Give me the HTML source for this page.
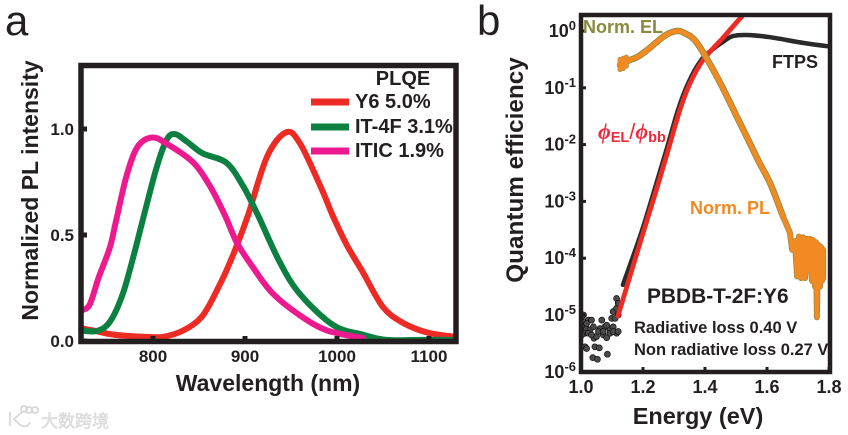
<!DOCTYPE html>
<html lang="en">
<head>
<meta charset="utf-8">
<title>PL and quantum efficiency chart</title>
<style>
html,body{margin:0;padding:0;background:#fff;width:848px;height:435px;overflow:hidden}
svg{display:block}
text{font-family:"Liberation Sans","Noto Sans CJK SC",sans-serif;font-weight:700;fill:#231f20}
.t17{font-size:17px}.t18{font-size:18px}.t20{font-size:20px}.t23{font-size:23px}
</style>
</head>
<body>
<svg id="fig" xmlns="http://www.w3.org/2000/svg" width="848" height="435" viewBox="0 0 848 435">
  <defs>
    <clipPath id="clipB"><rect x="581" y="15" width="249" height="357"/></clipPath>
  </defs>
  <text x="5" y="35" style="font-size:42px;font-weight:400">a</text>
  <text x="477" y="35" style="font-size:42px;font-weight:400">b</text>

  <g id="plotA"></g>
  <rect x="81" y="65.5" width="375" height="276" fill="none" stroke="#231f20" stroke-width="5.5"/>
  <g id="ticksA"></g>
  <text class="t23" x="268" y="391" text-anchor="middle">Wavelength (nm)</text>
  <text class="t23" transform="translate(38,190.5) rotate(-90)" text-anchor="middle">Normalized PL intensity</text>
  <text class="t20" x="403" y="85" text-anchor="middle">PLQE</text>
  <g>
    <line x1="311" x2="349" y1="102" y2="102" stroke="#ee2a24" stroke-width="7"/>
    <text class="t20" x="355" y="108">Y6 5.0%</text>
  </g>
  <g>
    <line x1="311" x2="349" y1="127" y2="127" stroke="#0b8040" stroke-width="7"/>
    <text class="t20" x="355" y="133">IT-4F 3.1%</text>
  </g>
  <g>
    <line x1="311" x2="349" y1="151" y2="151" stroke="#ec1a8e" stroke-width="7"/>
    <text class="t20" x="355" y="157">ITIC 1.9%</text>
  </g>

  <g id="plotB" clip-path="url(#clipB)"></g>
  <rect x="581" y="15" width="249" height="357" fill="none" stroke="#231f20" stroke-width="4.5"/>
  <g id="ticksB"></g>
  <text style="font-size:23.5px" x="698" y="424" text-anchor="middle">Energy (eV)</text>
  <text style="font-size:24.3px" transform="translate(523,170) rotate(-90)" text-anchor="middle">Quantum efficiency</text>
  <text class="t18" x="583" y="33" style="fill:#8a8a3c">Norm. EL</text>
  <text class="t18" x="772" y="68">FTPS</text>
  <text class="t18" x="690" y="214" style="fill:#f28a24">Norm. PL</text>
  <text x="598" y="139" style="font-size:22px;fill:#ee2a3c"><tspan style="font-family:'Liberation Serif',serif;font-style:italic">ϕ</tspan><tspan dy="3" style="font-size:14.5px">EL</tspan><tspan dy="-3" style="font-weight:400">/</tspan><tspan style="font-family:'Liberation Serif',serif;font-style:italic">ϕ</tspan><tspan dy="3" style="font-size:14.5px">bb</tspan></text>
  <text x="647" y="303" style="font-size:20.9px">PBDB-T-2F:Y6</text>
  <text x="634" y="333" style="font-size:16.5px">Radiative loss 0.40 V</text>
  <text x="634" y="355" style="font-size:16.5px">Non radiative loss 0.27 V</text>

  <g>
    <path d="M10 412 v14 M22 412 l-8 7 l6 6 q7 4 10 -3 M24 406 a3 3 0 1 0 .1 0 M29 407 a3 3 0 1 0 .1 0 M35 407 a3 3 0 1 0 .1 0" fill="none" stroke="#d6d6d6" stroke-width="1.7"/>
    <text x="41" y="427" style="font-size:17px;font-weight:400;fill:#e6e6e6;stroke:#d2d2d2;stroke-width:.5">大数跨境</text>
  </g>
</svg>
<script>
/* ---- Panel a data ---- */
var y6Wavelength = [722,740,757,789,811,833,854,873,887,903,924,945,960,982,996,1011,1028,1050,1072,1098,1128];
var y6Intensity = [0.06,0.045,0.03,0.02,0.02,0.05,0.12,0.27,0.405,0.59,0.87,0.985,0.93,0.73,0.585,0.45,0.325,0.16,0.085,0.04,0.02];
var it4fWavelength = [722,739,753,767,780,790,804,815,824,837,854,880,898,914,938,960,996,1028,1054,1090,1128];
var it4fIntensity = [0.05,0.047,0.09,0.22,0.42,0.59,0.82,0.95,0.976,0.94,0.885,0.84,0.73,0.594,0.37,0.22,0.075,0.03,0.005,0.005,0.005];
var iticWavelength = [722,731,741,753,760,771,783,799,815,843,862,878,891,909,930,960,989,1028];
var iticIntensity = [0.145,0.17,0.30,0.44,0.57,0.775,0.915,0.96,0.93,0.845,0.73,0.594,0.465,0.345,0.225,0.12,0.05,0.014];
var aXTicks = [800,900,1000,1100];
var aYTicks = [0,0.5,1];
var aYLabels = ["0.0","0.5","1.0"];

/* ---- Panel b data (log10 of quantum efficiency) ---- */
var ftpsEnergy = [1.135,1.194,1.233,1.275,1.313,1.346,1.388,1.43,1.458,1.49,1.535,1.61,1.716,1.797];
var ftpsLog = [-4.47,-3.56,-2.87,-2.1,-1.39,-0.915,-0.51,-0.3,-0.19,-0.09,-0.07,-0.11,-0.21,-0.27];
var ratioEnergy = [1.119,1.2,1.239,1.281,1.319,1.352,1.394,1.458,1.529,1.56];
var ratioLog = [-5.02,-3.56,-2.87,-2.1,-1.39,-0.915,-0.51,-0.12,0.32,0.5];
var noiseEnergy = [1.008,1.008,1.003,1.003,1.013,1.018,1.013,1.024,1.034,1.018,1.029,1.04,1.013,1.024,1.042,1.05,1.067,1.061,1.077,1.083,1.094,1.104,1.115,1.099,1.104,1.115,1.115,1.12,1.045,1.059,1.085,1.038,1.053,1.072,1.083,1.056,1.034,1.094,1.003,1.104,1.12,1.018,1.072,1.11,1.12];
var noiseLog = [-5,-5.12,-5.21,-5.29,-5.56,-5.59,-5.12,-5.09,-5.09,-5.24,-5.26,-5.21,-5.32,-5.32,-5.41,-5.38,-5.09,-5.24,-5.21,-5.18,-5.26,-5.21,-5.32,-5.06,-4.94,-4.88,-4.71,-4.79,-5.56,-5.58,-5.69,-5.75,-5.78,-5.35,-5.4,-5.29,-5.35,-5.32,-5.35,-5.29,-5,-5.15,-5.29,-5.06,-5.29];
var elEnergy = [1.126,1.14,1.158,1.181,1.215,1.245,1.277,1.31,1.335,1.374,1.439,1.503,1.571,1.61,1.652];
var elLog = [-0.6,-0.55,-0.51,-0.46,-0.33,-0.19,-0.06,0,-0.04,-0.21,-0.81,-1.51,-2.27,-2.68,-3.27];
var elStartEnergy = [1.126,1.126,1.136,1.136,1.146,1.146];
var elStartLog = [-0.68,-0.5,-0.66,-0.48,-0.62,-0.46];
var plEnergy = [1.652,1.674,1.681,1.69,1.697,1.703,1.71,1.716,1.723,1.729,1.732,1.739,1.745,1.748,1.755,1.758,1.761,1.765,1.771,1.774,1.777,1.781,1.781];
var plLog = [-3.27,-3.55,-3.85,-3.7,-4.32,-3.62,-4.35,-3.63,-4.35,-3.66,-4.22,-3.66,-4.4,-3.68,-4.5,-3.72,-5.04,-3.76,-4.5,-3.8,-4.4,-3.85,-4.36];
var bXTicks = [1.0,1.2,1.4,1.6,1.8];
var bYExponents = [0,-1,-2,-3,-4,-5,-6];

var NS = "http://www.w3.org/2000/svg";
function mk(tag, parent) { var e = document.createElementNS(NS, tag); parent.appendChild(e); return e; }

/* axis functions */
function xA(w) { return 245 + (w - 900) * 0.92; }
function yA(v) { return 341 - v * 212; }
function xB(e) { return 581 + (e - 1) * 310; }
function yB(l) { return 31 - l * 56.8; }

function smoothPath(xs, ys, fx, fy) {
  var p = xs.map(function (x, i) { return [fx(x), fy(ys[i])]; });
  var d = "M" + p[0][0].toFixed(1) + " " + p[0][1].toFixed(1);
  for (var i = 0; i < p.length - 1; i++) {
    var a = p[Math.max(0, i - 1)], b = p[i], c = p[i + 1], e = p[Math.min(p.length - 1, i + 2)];
    d += "C" + (b[0] + (c[0] - a[0]) / 6).toFixed(1) + " " + (b[1] + (c[1] - a[1]) / 6).toFixed(1) + " " +
         (c[0] - (e[0] - b[0]) / 6).toFixed(1) + " " + (c[1] - (e[1] - b[1]) / 6).toFixed(1) + " " +
         c[0].toFixed(1) + " " + c[1].toFixed(1);
  }
  return d;
}
function straightPath(xs, ys, fx, fy) {
  return xs.map(function (x, i) { return (i ? "L" : "M") + fx(x).toFixed(1) + " " + fy(ys[i]).toFixed(1); }).join("");
}
function styleLine(el, d, color, width) {
  el.setAttribute("d", d);
  el.setAttribute("fill", "none");
  el.setAttribute("stroke", color);
  el.setAttribute("stroke-width", width);
  el.setAttribute("stroke-linejoin", "round");
  el.setAttribute("stroke-linecap", "round");
}

/* Panel a series */
var plotA = document.getElementById("plotA");
var lineY6 = mk("path", plotA);


styleLine(lineY6, smoothPath(y6Wavelength, y6Intensity, xA, yA), "#ee2a24", 6);
var lineIT = mk("path", plotA);


styleLine(lineIT, smoothPath(it4fWavelength, it4fIntensity, xA, yA), "#0b8040", 6);
var lineITIC = mk("path", plotA);


styleLine(lineITIC, smoothPath(iticWavelength, iticIntensity, xA, yA), "#ec1a8e", 6);

/* Panel a ticks */
var ticksA = document.getElementById("ticksA");
aXTicks.forEach(function (w) {
  var t = mk("line", ticksA);
  
  
  t.setAttribute("x1", xA(w)); t.setAttribute("x2", xA(w));
  t.setAttribute("y1", 340); t.setAttribute("y2", 336);
  t.setAttribute("stroke", "#231f20"); t.setAttribute("stroke-width", 5);
  var l = mk("text", ticksA);
  
  
  l.setAttribute("class", "t17");
  l.setAttribute("x", xA(w)); l.setAttribute("y", 362);
  l.setAttribute("text-anchor", "middle");
  l.textContent = w;
});
aYTicks.forEach(function (v, i) {
  var t = mk("line", ticksA);
  
  
  t.setAttribute("x1", 83); t.setAttribute("x2", 87);
  t.setAttribute("y1", yA(v)); t.setAttribute("y2", yA(v));
  t.setAttribute("stroke", "#231f20"); t.setAttribute("stroke-width", 5);
  var l = mk("text", ticksA);
  
  
  l.setAttribute("class", "t17");
  l.setAttribute("x", 74); l.setAttribute("y", yA(v) + 6);
  l.setAttribute("text-anchor", "end");
  l.textContent = aYLabels[i];
});

/* Panel b series */
var plotB = document.getElementById("plotB");
noiseEnergy.forEach(function (e, i) {
  var c = mk("circle", plotB);
  
  
  c.setAttribute("cx", xB(e).toFixed(1));
  c.setAttribute("cy", yB(noiseLog[i]).toFixed(1));
  c.setAttribute("r", 3);
  c.setAttribute("fill", "#4a4a4a");
  c.setAttribute("stroke", "#111");
  c.setAttribute("stroke-width", 0.7);
});
var lineFtps = mk("path", plotB);


styleLine(lineFtps, smoothPath(ftpsEnergy, ftpsLog, xB, yB), "#2a2a2a", 4.5);
var lineRatio = mk("path", plotB);


styleLine(lineRatio, smoothPath(ratioEnergy, ratioLog, xB, yB), "#ee2a24", 4.8);
var elEdge = mk("path", plotB);


styleLine(elEdge, smoothPath(elEnergy, elLog, xB, yB), "#8f8b3e", 6.5);
var elStartEdge = mk("path", plotB);


styleLine(elStartEdge, straightPath(elStartEnergy, elStartLog, xB, yB), "#8f8b3e", 5);
var plEdge = mk("path", plotB);


styleLine(plEdge, straightPath(plEnergy, plLog, xB, yB), "#a08a3c", 6);
var elCore = mk("path", plotB);


styleLine(elCore, smoothPath(elEnergy, elLog, xB, yB), "#f28a24", 4.8);
var elStartCore = mk("path", plotB);


styleLine(elStartCore, straightPath(elStartEnergy, elStartLog, xB, yB), "#f28a24", 4);
var plCore = mk("path", plotB);


styleLine(plCore, straightPath(plEnergy, plLog, xB, yB), "#f28a24", 4.5);

/* Panel b ticks */
var ticksB = document.getElementById("ticksB");
bXTicks.forEach(function (e) {
  var t = mk("line", ticksB);
  
  
  t.setAttribute("x1", xB(e)); t.setAttribute("x2", xB(e));
  t.setAttribute("y1", 371); t.setAttribute("y2", 367);
  t.setAttribute("stroke", "#231f20"); t.setAttribute("stroke-width", 3);
  var l = mk("text", ticksB);
  
  
  l.setAttribute("class", "t18");
  l.setAttribute("x", xB(e)); l.setAttribute("y", 393);
  l.setAttribute("text-anchor", "middle");
  l.textContent = e.toFixed(1);
});
bYExponents.forEach(function (p) {
  var t = mk("line", ticksB);
  
  
  t.setAttribute("x1", 582); t.setAttribute("x2", 586);
  t.setAttribute("y1", yB(p)); t.setAttribute("y2", yB(p));
  t.setAttribute("stroke", "#231f20"); t.setAttribute("stroke-width", 3);
  var l = mk("text", ticksB);
  
  
  l.setAttribute("class", "t18");
  l.setAttribute("x", 576); l.setAttribute("y", yB(p) + 6);
  l.setAttribute("text-anchor", "end");
  var base = mk("tspan", l);
  base.textContent = "10";
  var sup = mk("tspan", l);
  sup.setAttribute("dy", -7);
  sup.setAttribute("style", "font-size:13px");
  sup.textContent = p === 0 ? "0" : "-" + Math.abs(p);
});
</script>
</body>
</html>
